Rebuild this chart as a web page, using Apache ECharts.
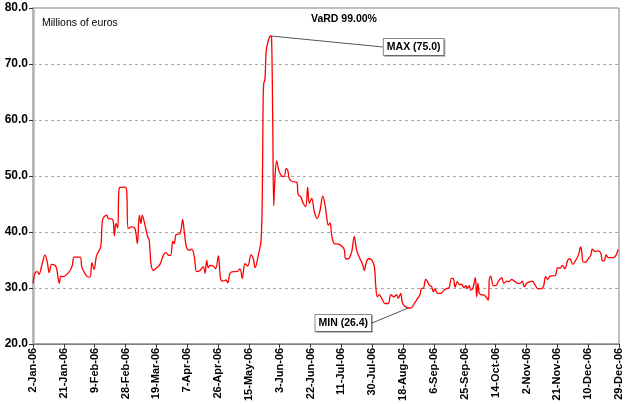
<!DOCTYPE html>
<html>
<head>
<meta charset="utf-8">
<script src="https://cdn.jsdelivr.net/npm/echarts@6/dist/echarts.min.js"></script>
<style>html,body{margin:0;padding:0;background:#fff;}#c{width:626px;height:404px;}</style>
</head>
<body>
<div id="c"></div>
<script>
// Days since 2-Jan-2006 and VaR values (millions of euros)
var dayOffsets = [0,1.2,2.6,3.7,5.4,7.4,8.8,10.0,11.5,13.6,14.6,16.2,17.2,18.7,20.8,22.8,24.2,25.4,29.0,30.0,31.0,33.1,35.1,36.3,37.6,39.2,41.7,42.9,45.4,46.4,49.1,50.1,51.1,52.2,53.2,56.7,57.7,58.7,60.8,62.8,64.3,65.5,66.5,67.3,69.0,70.7,71.6,72.7,74.1,76.2,78.2,80.3,81.7,83.3,84.8,86.1,87.0,88.1,90.6,92.2,93.2,94.7,96.3,97.8,99.4,100.8,102.9,104.9,106.0,107.0,108.0,109.0,111.1,112.5,114.2,115.6,117.2,118.9,119.9,121.4,123.4,125.5,127.5,128.9,130.6,132.3,134.3,135.7,136.8,138.8,140.5,141.3,141.7,142.1,142.9,143.7,145.0,146.4,147.0,147.7,148.3,149.1,150.1,151.5,153.2,154.8,155.9,156.9,157.9,159.7,162.4,163.4,164.9,166.5,168.0,169.2,170.2,171.7,173.3,175.1,176.8,178.5,179.9,180.9,181.9,183.0,184.0,185.6,188.1,190.5,191.8,192.6,194.2,196.3,197.9,199.4,201.4,202.9,204.1,205.1,206.6,208.6,210.3,211.1,212.1,213.3,214.8,216.8,218.9,220.4,222.4,224.0,225.0,226.5,227.5,228.7,231.2,233.3,234.9,237.0,238.4,239.4,240.4,241.9,242.9,244.1,245.6,246.6,247.6,249.3,251.3,253.2,255.2,256.3,257.9,258.9,260.0,261.4,262.6,264.1,265.5,266.7,267.5,268.8,269.6,270.9,272.5,273.3,274.1,274.9,276.0,278.4,280.5,281.1,282.0,283.6,285.2,286.6,288.7,290.1,291.8,293.2,294.9,296.5,298.0,300.0,301.4,302.7,304.1,306.2,307.6,309.3,310.7,312.3,314.4,315.8,317.1,318.5,321.6,323.2,324.6,326.1,327.7,329.4,330.8,332.5,334.3,335.9,337.4,338.0,339.0,340.5,342.1,343.6,344.5,346.2,348.2,349.9,350.7,351.9,353.0,354.4,357.5,359.1,360.5];
var varValues = [30.8,32.6,32.9,32.4,34.0,35.9,34.6,32.7,34.2,34.0,33.4,30.8,32.1,32.0,32.4,33.1,34.0,35.5,35.5,33.8,33.1,32.1,31.9,34.5,33.3,35.8,37.3,42.2,43.0,42.4,42.2,39.3,41.5,40.7,47.9,48.0,47.4,40.6,40.9,40.6,37.9,43.0,41.5,43.0,41.2,39.1,38.5,34.3,33.1,33.6,34.2,35.8,36.3,35.9,35.8,38.3,37.9,39.5,39.7,42.2,40.0,37.1,36.7,36.9,35.5,32.9,33.1,33.8,32.6,34.9,33.6,34.0,33.9,33.4,35.7,31.5,31.2,31.4,30.9,32.6,32.9,32.9,33.4,31.7,34.3,33.9,35.9,35.2,33.6,35.8,38.5,47.4,61.7,66.4,67.3,72.4,74.2,75.0,74.5,59.3,44.7,49.8,52.7,50.9,50.0,49.9,51.3,51.0,49.5,49.0,48.9,46.6,46.3,45.1,44.5,48.0,45.1,46.0,43.6,42.4,43.8,46.4,44.8,42.7,41.2,41.6,39.4,37.9,37.8,37.4,36.8,35.2,35.2,36.4,39.2,36.7,35.2,34.3,33.1,34.3,35.2,35.0,33.8,30.5,28.4,28.8,28.1,27.2,27.2,28.8,28.4,28.8,28.1,29.0,27.4,26.8,26.4,26.5,27.2,28.1,28.8,29.9,29.9,31.5,31.2,30.5,30.2,29.3,29.8,29.0,29.0,29.6,29.9,30.0,31.7,31.7,30.1,31.1,30.6,30.6,30.0,30.4,29.9,30.4,29.6,29.9,31.8,28.4,30.8,29.0,28.8,28.6,27.8,31.5,32.1,30.4,30.4,31.1,31.8,30.8,31.2,31.1,31.5,31.2,30.9,30.8,31.2,30.2,30.8,31.1,31.2,30.5,29.9,29.8,30.2,32.0,31.5,32.1,32.2,33.6,33.5,34.0,33.4,34.9,35.2,34.2,34.9,35.8,37.3,36.5,34.6,34.6,35.2,35.8,36.9,36.5,36.6,36.1,34.8,34.8,35.9,35.4,35.4,35.8,36.9];
var yTicks = [20, 30, 40, 50, 60, 70, 80];
var xStartDate = '2006-01-02';
var xSpanDays = 361;
var xTickStepDays = 19;
var monthNames = ['Jan','Feb','Mar','Apr','May','Jun','Jul','Aug','Sep','Oct','Nov','Dec'];
var titleText = 'VaRD 99.00%';
var unitText = 'Millions of euros';

var FONT = 'Arial, "Liberation Sans", Helvetica, sans-serif';
var maxIdx = 0, minIdx = 0;
for (var i = 0; i < varValues.length; i++) {
  if (varValues[i] > varValues[maxIdx]) maxIdx = i;
  if (varValues[i] < varValues[minIdx]) minIdx = i;
}
var boxLabel = {
  show: true, position: 'inside', fontFamily: FONT, fontSize: 10.5, fontWeight: 'bold', color: '#000',
  backgroundColor: '#fff', borderColor: '#8a8a8a', borderWidth: 1, padding: [3, 3, 2, 3],
  shadowColor: 'rgba(0,0,0,0.25)', shadowOffsetX: 1, shadowOffsetY: 1, shadowBlur: 0
};
var seriesData = dayOffsets.map(function (d, i) {
  if (i === maxIdx || i === minIdx) {
    var txt = (i === maxIdx ? 'MAX' : 'MIN') + ' (' + varValues[i].toFixed(1) + ')';
    return { value: [d, varValues[i]], symbol: 'circle', symbolSize: 1,
      label: Object.assign({}, boxLabel, { formatter: txt }) };
  }
  return [d, varValues[i]];
});
var start = new Date(xStartDate + 'T00:00:00Z').getTime();
function fmtDay(v) {
  var dt = new Date(start + Math.round(v) * 86400000);
  return dt.getUTCDate() + '-' + monthNames[dt.getUTCMonth()] + '-' + String(dt.getUTCFullYear()).slice(2);
}

var chart = echarts.init(document.getElementById('c'), null, { renderer: 'canvas' });
chart.setOption({
  animation: false,
  backgroundColor: '#fff',
  grid: { left: 33, right: 7, top: 8, bottom: 58, show: true, borderColor: '#808080', borderWidth: 1, backgroundColor: 'transparent' },
  graphic: [
    { type: 'text', left: 42, top: 18, style: { text: unitText, font: '10.5px ' + FONT, fill: '#000' } },
    { type: 'text', left: 311, top: 14, style: { text: titleText, font: 'bold 10.5px ' + FONT, fill: '#000' } }
  ],
  xAxis: {
    type: 'value', min: 0, max: xSpanDays, interval: xTickStepDays,
    axisLine: { show: true, lineStyle: { color: '#808080', width: 1 } },
    axisTick: { show: true, length: 4, lineStyle: { color: '#333' } },
    splitLine: { show: false },
    axisLabel: { rotate: 90, margin: 4, formatter: fmtDay, fontFamily: FONT, fontSize: 11, fontWeight: 'bold', color: '#000', showMinLabel: true, showMaxLabel: true }
  },
  yAxis: {
    type: 'value', min: yTicks[0], max: yTicks[yTicks.length - 1], interval: yTicks[1] - yTicks[0],
    axisLine: { show: true, lineStyle: { color: '#b5b5b5', width: 2.5 } },
    axisTick: { show: true, length: 4, lineStyle: { color: '#333' } },
    splitLine: { show: true, showMinLine: false, showMaxLine: false, lineStyle: { color: '#a8a8a8', type: [3, 3], width: 1 } },
    axisLabel: { margin: 5, formatter: function (v) { return v.toFixed(1); }, fontFamily: FONT, fontSize: 12, fontWeight: 'bold', color: '#000' }
  },
  series: [{
    type: 'line',
    data: seriesData,
    showSymbol: true,
    symbol: 'none',
    smooth: 0.35,
    lineStyle: { color: '#ff0000', width: 1.3 },
    itemStyle: { color: '#ff0000' },
    labelLine: { show: true, lineStyle: { color: '#555', width: 1 } },
    labelLayout: function (p) {
      if (p.dataIndex === maxIdx) return { dx: 143, dy: 11 };
      if (p.dataIndex === minIdx) return { dx: -65, dy: 15 };
      return {};
    },
    emphasis: { disabled: true }
  }]
});
</script>
</body>
</html>
